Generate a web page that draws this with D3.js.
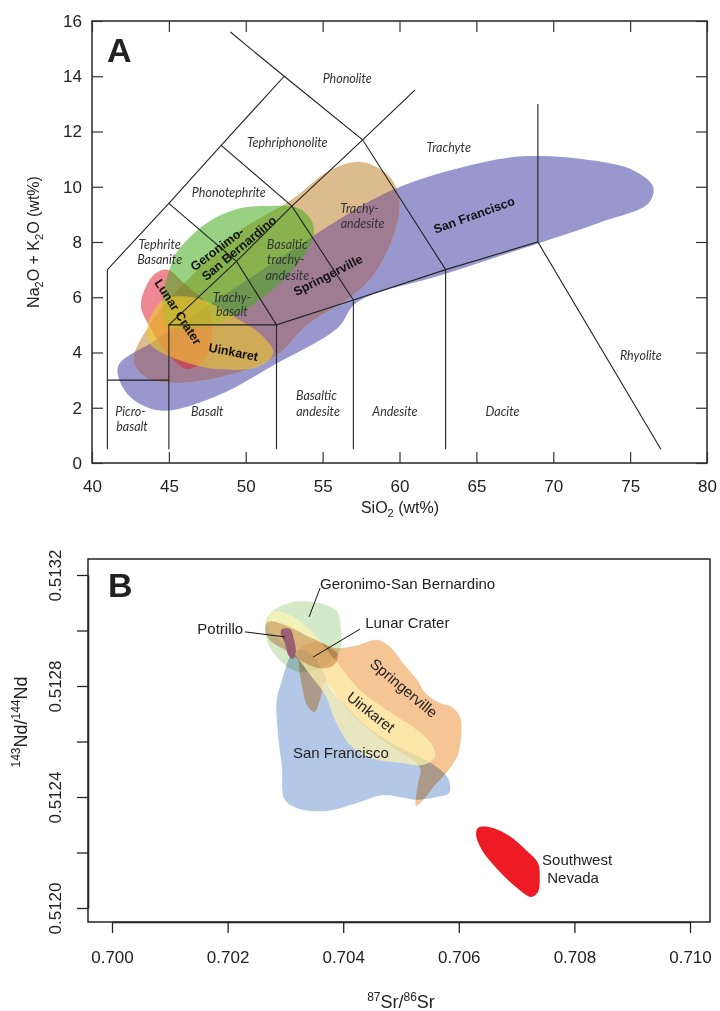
<!DOCTYPE html>
<html>
<head>
<meta charset="utf-8">
<script src="https://cdn.jsdelivr.net/npm/d3@7"></script>
<style>
body { margin: 0; background: #fff; }
text { font-family: "Liberation Sans", Arial, sans-serif; fill: #222; }
.field { font-family: Lato, "Open Sans", sans-serif; font-style: italic; font-size: 12.5px; fill: #333; }
.blob { font-weight: bold; fill: #111; }
</style>
</head>
<body>
<div id="chart"></div>
<script>
// ---------- panel A : TAS diagram ----------
var sfA = [[41.7,3.5],[44,4.4],[47,5.5],[50,6.6],[53,7.7],[56,8.8],[59.6,9.9],[64,10.7],[68,11.1],[72.6,10.95],[75.2,10.6],[76.5,10.0],[76.2,9.4],[73,8.7],[69,7.95],[63,6.85],[57.2,5.8],[56,4.9],[52,3.6],[48,2.4],[44.4,1.9],[42.3,2.5]];
var springA = [[42.7,3.7],[43.5,3.1],[45.5,2.9],[49,3.2],[52,3.9],[54,5.0],[56.8,6.0],[58.3,6.8],[59.6,8.2],[60,9.5],[59.3,10.4],[57.5,10.9],[55.5,10.6],[52.9,9.5],[49.6,8.4],[46.5,6.8],[44,5.2]];
var geronimoA = [[44.6,5.9],[45.1,7.1],[45.6,7.7],[47.5,8.7],[49.5,9.2],[51.4,9.3],[53.5,9.2],[54.4,8.6],[54.2,7.9],[52.2,6.5],[49.2,5.3],[47,4.9],[44.9,5.0]];
var lunarA = [[43.3,6.1],[44.0,6.8],[44.9,7.0],[46,6.5],[47.5,5.7],[47.8,4.6],[47.3,3.7],[46.2,3.4],[45,3.9],[43.8,4.9],[43.2,5.6]];
var uinkaretA = [[43.6,4.9],[44.6,5.9],[46.5,6.0],[48,5.7],[49.2,5.3],[50.9,4.7],[51.8,4.0],[50.9,3.5],[48.1,3.4],[45.3,3.8],[43.8,4.3]];

var tasLines = [
  [[41,0.5],[41,7],[45,9.4],[48.4,11.5],[52.5,14]],
  [[49,15.6],[52.5,14],[57.6,11.7],[63,7]],
  [[45,9.4],[49.4,7.3],[52,5]],
  [[48.4,11.5],[53,9.3],[57,5.9]],
  [[45,5],[49.4,7.3],[53,9.3],[57.6,11.7],[61,13.5]],
  [[45,0.5],[45,5],[52,5],[57,5.9],[63,7],[69,8],[77,0.5]],
  [[41,3],[45,3]],
  [[52,0.5],[52,5]],
  [[57,0.5],[57,5.9]],
  [[63,0.5],[63,7]],
  [[69,8],[69,13]]
];

var fieldNames = ["Phonolite","Tephriphonolite","Trachyte","Phonotephrite","Tephrite","Basanite","Basaltic","trachy-","andesite","Trachy-","andesite","Trachy-","basalt","Picro-","basalt","Basalt","Basaltic","andesite","Andesite","Dacite","Rhyolite"];
var fieldAt = [[56.6,13.9],[52.7,11.6],[63.2,11.4],[48.9,9.8],[44.4,7.9],[44.4,7.35],[52.7,7.9],[52.6,7.35],[52.7,6.8],[57.4,9.2],[57.6,8.65],[49.1,6.0],[49.1,5.47],[42.5,1.85],[42.6,1.3],[47.5,1.85],[54.6,2.43],[54.7,1.85],[59.7,1.85],[66.7,1.85],[75.7,3.87]];

var blobNamesA = ["Geronimo-","San Bernardino","Lunar Crater","Uinkaret","Springerville","San Francisco"];
var blobAtA = [[48.13,7.75],[49.56,7.78],[45.6,5.47],[49.2,4.02],[55.35,6.8],[64.85,8.98]];
var blobAngleA = [-37,-40,57,11,-27,-20];

// ---------- panel B : Sr-Nd isotopes ----------
var sfB = [[0.70313,0.51292],[0.70294,0.51282],[0.70285,0.51275],[0.70287,0.51263],[0.70294,0.51251],[0.70299,0.51239],[0.70325,0.512357],[0.70372,0.51235],[0.70429,0.512382],[0.70469,0.512407],[0.70498,0.5124],[0.70528,0.51239],[0.70562,0.5124],[0.70583,0.512414],[0.70583,0.51246],[0.70567,0.5125],[0.70533,0.512544],[0.7049,0.512587],[0.70438,0.512659],[0.70403,0.512732],[0.70377,0.512793],[0.7036,0.512876],[0.70334,0.51293]];
var springB = [[0.70325,0.512937],[0.70356,0.512959],[0.70386,0.512937],[0.7042,0.512944],[0.7046,0.512966],[0.70481,0.512941],[0.70503,0.512883],[0.70528,0.512822],[0.70542,0.512775],[0.70567,0.512739],[0.70588,0.512724],[0.70602,0.512688],[0.70604,0.512616],[0.70597,0.512544],[0.70581,0.512494],[0.70559,0.512443],[0.70538,0.512389],[0.70526,0.512368],[0.70529,0.512443],[0.70533,0.512505],[0.70507,0.512551],[0.70472,0.512598],[0.70429,0.51267],[0.70394,0.51275],[0.70369,0.512814],[0.7036,0.51275],[0.7035,0.512706],[0.70337,0.512732],[0.7033,0.512786],[0.70324,0.512865]];
var geronimoB = [[0.70273,0.51306],[0.70308,0.5131],[0.70355,0.5131],[0.70389,0.51307],[0.70396,0.51301],[0.70396,0.51294],[0.70382,0.51289],[0.70355,0.51286],[0.70325,0.51285],[0.70303,0.51287],[0.70273,0.51294],[0.70265,0.51301]];
var uinkaretB = [[0.70277,0.513067],[0.70308,0.513056],[0.70343,0.513002],[0.70386,0.512894],[0.70429,0.512786],[0.70481,0.512706],[0.70528,0.512641],[0.70554,0.512587],[0.70559,0.512544],[0.70538,0.512515],[0.70498,0.512523],[0.70446,0.512541],[0.70412,0.512587],[0.70386,0.512677],[0.70369,0.512768],[0.70343,0.51284],[0.70317,0.512912],[0.70291,0.512966],[0.7027,0.51301]];
var lunarB = [[0.7027,0.513031],[0.70299,0.51302],[0.70334,0.512984],[0.70369,0.512948],[0.70391,0.512912],[0.70382,0.512872],[0.70356,0.512865],[0.70325,0.512894],[0.70299,0.51293],[0.70273,0.512966],[0.70265,0.513002]];
var potrilloB = [[0.70294,0.513005],[0.70308,0.513005],[0.70315,0.512966],[0.70318,0.512923],[0.70313,0.512897],[0.70305,0.512912],[0.70299,0.512955],[0.70292,0.512987]];
var nevadaB = [[0.70633,0.512288],[0.70652,0.512292],[0.70685,0.512263],[0.70716,0.512209],[0.70737,0.512162],[0.7074,0.512112],[0.70737,0.512058],[0.70725,0.51204],[0.70701,0.512072],[0.70668,0.512137],[0.7064,0.512209],[0.7063,0.512263]];

var srTicks = [0.700,0.702,0.704,0.706,0.708,0.710];
var ndTicks = [0.5120,0.5122,0.5124,0.5126,0.5128,0.5130,0.5132];
var ndLabels = ["0.5120","","0.5124","","0.5128","","0.5132"];

var svg = d3.select("#chart").append("svg")
    .attr("width", 720)
    .attr("height", 1011);

// ================= A =================
var xA = d3.scaleLinear().domain([40, 80]).range([92, 707]);
var yA = d3.scaleLinear().domain([0, 16]).range([463, 21]);
var blobLineA = d3.line().x(d => xA(d[0])).y(d => yA(d[1])).curve(d3.curveCatmullRomClosed.alpha(0.5));
var segLineA = d3.line().x(d => xA(d[0])).y(d => yA(d[1]));

svg.append("defs").append("clipPath").attr("id", "clipSF")
  .append("path").attr("d", blobLineA(sfA));

var gA = svg.append("g");
gA.append("path").attr("d", blobLineA(sfA)).attr("fill", "#7070bc").attr("opacity", 0.72);
gA.append("path").attr("d", blobLineA(springA)).attr("fill", "#dcbb8c");
gA.append("path").attr("d", blobLineA(springA)).attr("fill", "#a07c92").attr("clip-path", "url(#clipSF)");
gA.append("path").attr("d", blobLineA(lunarA)).attr("fill", "#e0283a").attr("opacity", 0.55);
gA.append("path").attr("d", blobLineA(geronimoA)).attr("fill", "#44ac1c").attr("opacity", 0.55);
gA.append("path").attr("d", blobLineA(uinkaretA)).attr("fill", "#f0cc30").attr("opacity", 0.6);

gA.selectAll(".tas").data(tasLines).enter().append("path")
    .attr("d", segLineA)
    .attr("fill", "none")
    .attr("stroke", "#222")
    .attr("stroke-width", 1.1);

gA.selectAll(".field").data(fieldNames).enter().append("text")
    .attr("class", "field")
    .attr("x", (d, i) => xA(fieldAt[i][0]))
    .attr("y", (d, i) => yA(fieldAt[i][1]))
    .attr("dy", "0.35em")
    .attr("text-anchor", "middle")
    .text(d => d);

gA.selectAll(".blob").data(blobNamesA).enter().append("text")
    .attr("class", "blob")
    .attr("font-size", 12.5)
    .attr("text-anchor", "middle")
    .attr("dy", "0.35em")
    .attr("transform", (d, i) => "translate(" + xA(blobAtA[i][0]) + "," + yA(blobAtA[i][1]) + ") rotate(" + blobAngleA[i] + ")")
    .text(d => d);

// axes A (ticks inward)
var axA = gA.append("g").attr("transform", "translate(0,463)")
    .call(d3.axisBottom(xA).tickSize(-11).tickSizeOuter(0).tickPadding(17));
var ayA = gA.append("g").attr("transform", "translate(92,0)")
    .call(d3.axisLeft(yA).tickSize(-11).tickSizeOuter(0).tickPadding(10));
var atA = gA.append("g").attr("transform", "translate(0,21)")
    .call(d3.axisTop(xA).tickSize(-11).tickSizeOuter(0).tickFormat(""));
var arA = gA.append("g").attr("transform", "translate(707,0)")
    .call(d3.axisRight(yA).tickSize(-11).tickSizeOuter(0).tickFormat(""));
[axA, ayA, atA, arA].forEach(function(g) {
  g.select(".domain").remove();
  g.selectAll("line").attr("stroke", "#333").attr("stroke-width", 1.2);
  g.selectAll("text").attr("font-size", 17).attr("fill", "#222")
    .attr("font-family", "'Liberation Sans', Arial, sans-serif");
});
gA.append("rect").attr("x", 92).attr("y", 21).attr("width", 615).attr("height", 442)
    .attr("fill", "none").attr("stroke", "#333").attr("stroke-width", 1.6);

gA.append("text").attr("x", 107).attr("y", 62).attr("font-size", 34).attr("font-weight", "bold").attr("fill", "#111").text("A");

var tx = gA.append("text").attr("x", 400).attr("y", 513).attr("text-anchor", "middle").attr("font-size", 16);
tx.append("tspan").text("SiO");
tx.append("tspan").attr("font-size", 11).attr("dy", 4).text("2");
tx.append("tspan").attr("dy", -4).text(" (wt%)");

var ty = gA.append("text").attr("transform", "translate(39,242) rotate(-90)").attr("text-anchor", "middle").attr("font-size", 16);
ty.append("tspan").text("Na");
ty.append("tspan").attr("font-size", 11).attr("dy", 4).text("2");
ty.append("tspan").attr("dy", -4).text("O + K");
ty.append("tspan").attr("font-size", 11).attr("dy", 4).text("2");
ty.append("tspan").attr("dy", -4).text("O (wt%)");

// ================= B =================
var xB = d3.scaleLinear().domain([0.700, 0.710]).range([112, 690]);
var yB = d3.scaleLinear().domain([0.5120, 0.5132]).range([908, 575]);
var blobLineB = d3.line().x(d => xB(d[0])).y(d => yB(d[1])).curve(d3.curveCatmullRomClosed.alpha(0.5));

var gB = svg.append("g");
gB.append("path").attr("d", blobLineB(sfB)).attr("fill", "#b3c7e7");
gB.append("path").attr("d", blobLineB(geronimoB)).attr("fill", "#d3e9c8").style("mix-blend-mode", "multiply");
gB.append("path").attr("d", blobLineB(springB)).attr("fill", "#f5c596").style("mix-blend-mode", "multiply");
gB.append("path").attr("d", blobLineB(uinkaretB)).attr("fill", "#fff3b0").attr("opacity", 0.7);
gB.append("path").attr("d", blobLineB(lunarB)).attr("fill", "#e6c0a8").style("mix-blend-mode", "multiply");
gB.append("path").attr("d", blobLineB(potrilloB)).attr("fill", "#9a5f70");
gB.append("path").attr("d", blobLineB(nevadaB)).attr("fill", "#ed1c24");

// leader lines and labels
var leaders = [
  [[0.7036, 0.513153], [0.70341, 0.513049]],
  [[0.70429, 0.513005], [0.70348, 0.512904]],
  [[0.7023, 0.512995], [0.70299, 0.512977]]
];
gB.selectAll(".lead").data(leaders).enter().append("line")
    .attr("x1", d => xB(d[0][0])).attr("y1", d => yB(d[0][1]))
    .attr("x2", d => xB(d[1][0])).attr("y2", d => yB(d[1][1]))
    .attr("stroke", "#111").attr("stroke-width", 1);

var labelsB = ["Geronimo-San Bernardino", "Lunar Crater", "Potrillo", "Springerville", "Uinkaret", "San Francisco", "Southwest", "Nevada"];
var labelAtB = [[0.7036,0.51315],[0.70438,0.51301],[0.70227,0.512987],[0.70505,0.512793],[0.70448,0.512706],[0.70396,0.512559],[0.70744,0.512155],[0.70753,0.51209]];
var labelAnchorB = ["start","start","end","middle","middle","middle","start","start"];
var labelAngleB = [0,0,0,40,38,0,0,0];
var labelDyB = ["0","0","0","0.35em","0.35em","0.35em","0","0"];
gB.selectAll(".lb").data(labelsB).enter().append("text")
    .attr("font-size", 15)
    .attr("fill", "#111")
    .attr("text-anchor", (d, i) => labelAnchorB[i])
    .attr("dy", (d, i) => labelDyB[i])
    .attr("transform", (d, i) => "translate(" + xB(labelAtB[i][0]) + "," + yB(labelAtB[i][1]) + ") rotate(" + labelAngleB[i] + ")")
    .text(d => d);

// frame and axes B
gB.append("rect").attr("x", 88).attr("y", 559).attr("width", 622).attr("height", 363)
    .attr("fill", "none").attr("stroke", "#222").attr("stroke-width", 1.5);

var axB = gB.append("g").attr("transform", "translate(0,922)")
    .call(d3.axisBottom(xB).tickValues(srTicks).tickFormat(d3.format(".3f")).tickSize(11).tickSizeOuter(0).tickPadding(18));
var ayB = gB.append("g").attr("transform", "translate(88,0)")
    .call(d3.axisLeft(yB).tickValues(ndTicks).tickFormat((d, i) => ndLabels[i]).tickSize(11).tickSizeOuter(0));
[axB, ayB].forEach(function(g) {
  g.select(".domain").attr("stroke", "#222").attr("stroke-width", 1.5);
  g.selectAll("line").attr("stroke", "#222").attr("stroke-width", 1.3);
  g.selectAll("text").attr("font-size", 17).attr("fill", "#222")
    .attr("font-family", "'Liberation Sans', Arial, sans-serif");
});
ayB.selectAll("text")
    .attr("x", null).attr("dy", "0.35em")
    .attr("text-anchor", "middle")
    .attr("transform", "translate(-33,0) rotate(-90)");

gB.append("text").attr("x", 108).attr("y", 597).attr("font-size", 34).attr("font-weight", "bold").attr("fill", "#111").text("B");

var bx = gB.append("text").attr("x", 401).attr("y", 1008).attr("text-anchor", "middle").attr("font-size", 18);
bx.append("tspan").attr("font-size", 12).attr("dy", -7).text("87");
bx.append("tspan").attr("dy", 7).text("Sr/");
bx.append("tspan").attr("font-size", 12).attr("dy", -7).text("86");
bx.append("tspan").attr("dy", 7).text("Sr");

var by = gB.append("text").attr("transform", "translate(27,722) rotate(-90)").attr("text-anchor", "middle").attr("font-size", 18);
by.append("tspan").attr("font-size", 12).attr("dy", -7).text("143");
by.append("tspan").attr("dy", 7).text("Nd/");
by.append("tspan").attr("font-size", 12).attr("dy", -7).text("144");
by.append("tspan").attr("dy", 7).text("Nd");
</script>
</body>
</html>
